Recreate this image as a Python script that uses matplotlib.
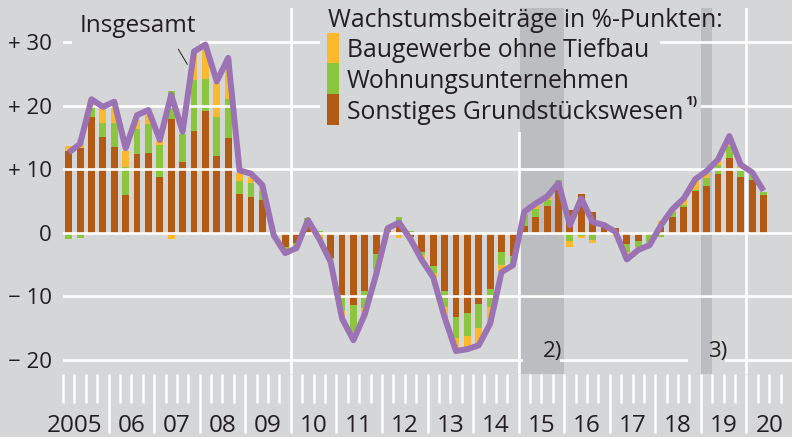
import matplotlib
matplotlib.use('Agg')
import matplotlib.pyplot as plt
from matplotlib.patches import Rectangle
import numpy as np

plt.rcParams['font.family'] = ['Open Sans', 'DejaVu Sans']

# Quartale 2005 Q1 .. 2020 Q2 (Wachstumsbeitraege in %-Punkten)
quarters = np.arange(2005, 2020.5, 0.25) + 0.125

sonstiges = [12.9, 13.4, 18.2, 15.0,
             13.5, 5.9, 12.4, 12.5,
             8.8, 17.9, 11.1, 16.0,
             19.2, 12.1, 14.9, 6.05,
             5.6, 5.1, -0.2, -2.2,
             -1.6, 1.0, -0.4, -3.9,
             -10.1, -11.4, -9.2, -3.4,
             0.3, 1.3, -0.6, -3.0,
             -5.3, -9.2, -13.3, -12.6,
             -11.2, -8.9, -3.0, -3.7,
             1.1, 2.5, 4.2, 7.8,
             3.6, 6.1, 3.3, 1.6,
             0.7, -1.8, -1.3, -0.3,
             0.95, 2.5, 4.1, 6.5,
             7.3, 9.3, 11.8, 8.8,
             8.3, 6.0]
wohnung = [-1.05, -0.9, 1.5, 2.2,
           3.8, 4.5, 3.9, 4.6,
           5.0, 4.4, 4.5, 8.1,
           5.0, 6.1, 6.1, 2.05,
           2.2, 1.4, -0.1, -0.6,
           -0.5, 1.3, 0.2, -0.3,
           -2.2, -4.2, -2.7, -2.3,
           0.3, 1.1, 0.3, -0.5,
           -1.0, -2.5, -3.2, -3.7,
           -3.8, -2.8, -2.0, -1.05,
           1.8, 1.3, 1.0, 0.5,
           -1.3, -0.5, -1.2, -0.4,
           -0.3, -1.2, -0.9, -1.4,
           -0.6, 0.7, 0.3, 0.3,
           1.3, 1.3, 1.8, 1.45,
           0.8, 0.45]
bau = [0.7, 1.4, 1.3, 2.4,
       3.3, 2.5, 1.5, 1.4,
       0.7, -1.05, -0.3, 4.2,
       5.1, 5.3, 6.3, 1.3,
       1.0, 1.0, -0.1, -0.4,
       -0.3, -0.3, -0.6, -0.4,
       -1.0, -0.4, -0.8, -0.8,
       0.1, -0.8, -0.7, -0.8,
       -0.7, -1.6, -2.1, -2.0,
       -2.6, -2.5, -1.2, -0.3,
       0.4, 0.8, 0.4, -0.3,
       -0.9, -0.3, -0.4, 0.0,
       -0.2, -1.1, -0.4, -0.2,
       0.95, 0.6, 1.0, 1.6,
       1.1, 0.9, 1.6, 0.4,
       0.4, -0.3]
insgesamt = [12.6, 14.0, 21.0, 19.8,
             20.6, 13.3, 18.5, 19.3,
             14.6, 21.7, 15.9, 28.5,
             29.6, 23.8, 27.5, 9.8,
             9.3, 7.5, -0.4, -3.2,
             -2.4, 2.0, -1.0, -4.6,
             -13.5, -16.9, -12.8, -6.5,
             0.7, 1.6, -1.0, -4.3,
             -7.0, -13.3, -18.6, -18.3,
             -17.7, -14.3, -6.2, -5.1,
             3.3, 4.6, 5.7, 7.8,
             1.2, 5.4, 1.7, 1.2,
             0.15, -4.2, -2.7, -1.95,
             1.2, 3.7, 5.4, 8.4,
             9.7, 11.5, 15.2, 10.7,
             9.5, 6.6]

series_names = ['Baugewerbe ohne Tiefbau', 'Wohnungsunternehmen', 'Sonstiges Grundstückswesen']
year_labels = ['2005'] + ['%02d' % (y % 100) for y in range(2006, 2021)]
yticks = [-20, -10, 0, 10, 20, 30]
ytick_labels = ['\u2212 20', '\u2212 10', '0', '+ 10', '+ 20', '+ 30']

BG = '#d5d6d8'
SHADE = '#bcbdc0'
TXT = '#231f20'
C_BAU = '#fbb92b'
C_WOHN = '#8cc63f'
C_SONST = '#b35a14'
C_LINE = '#9b72b3'

fig = plt.figure(figsize=(7.92, 4.37), dpi=100)
fig.patch.set_facecolor(BG)
ax = fig.add_axes([63 / 792, (437 - 374.3) / 437, 729 / 792, 366 / 437])
ax.set_facecolor(BG)
ax.set_xlim(2005, 2021)
ax.set_ylim(-22.26, 35.3)
for s in ax.spines.values():
    s.set_visible(False)

# Schattierungen 2) und 3)
ax.axvspan(2015.04, 2016.0, color=SHADE, lw=0, zorder=0.5)
ax.axvspan(2019.0, 2019.25, color=SHADE, lw=0, zorder=0.5)

# gestapelte Balken
width = 0.15
pos = np.zeros(len(quarters))
neg = np.zeros(len(quarters))
for vals, col in [(sonstiges, C_SONST), (wohnung, C_WOHN), (bau, C_BAU)]:
    v = np.array(vals)
    base = np.where(v >= 0, pos, neg)
    ax.bar(quarters, v, width, bottom=base, color=col, lw=0, zorder=1.5)
    pos = pos + np.clip(v, 0, None)
    neg = neg + np.clip(v, None, 0)

# Gitter
for y in yticks:
    ax.axhline(y, color='white', lw=1.9, zorder=2)
for x in [2010, 2015, 2020]:
    ax.axvline(x, color='white', lw=1.9, zorder=2)

# Abdeckungen hinter Texten
ax.add_patch(Rectangle((2010.64, 25.6), 2018.1 - 2010.64, 10, color=BG, lw=0, zorder=2.2))
ax.add_patch(Rectangle((2010.64, 15.8), 2019.0 - 2010.64, 9.9, color=BG, lw=0, zorder=2.2))
ax.add_patch(Rectangle((2015.04, 15.8), 0.96, 20, color=SHADE, lw=0, zorder=2.5))
ax.add_patch(Rectangle((2005.2, 28.7), 2008.0 - 2005.2, 2.6, color=BG, lw=0, zorder=2.2))
ax.add_patch(Rectangle((2015.1, -21.0), 0.8, 3.2, color=SHADE, lw=0, zorder=2.5))
ax.add_patch(Rectangle((2018.72, -21.0), 0.8, 3.2, color=BG, lw=0, zorder=2.2))
ax.add_patch(Rectangle((2019.0, -21.0), 0.25, 3.2, color=SHADE, lw=0, zorder=2.5))

# Insgesamt
ax.plot(quarters, insgesamt, color=C_LINE, lw=4.3, solid_joinstyle='round',
        solid_capstyle='butt', zorder=4)

ax.text(2005.36, 31.6, 'Insgesamt', fontsize=17.5, color=TXT, zorder=5)
ax.annotate('', xy=(2007.76, 26.1), xytext=(2007.50, 29.25),
            arrowprops=dict(arrowstyle='-', color=TXT, lw=0.7), zorder=5)

# Legende
ax.text(2010.816, 32.42, 'Wachstumsbeiträge in %-Punkten:', fontsize=17.8, color=TXT, zorder=5)
rows = [(C_BAU, 31.4, 26.68, 27.57), (C_WOHN, 26.68, 21.8, 22.8), (C_SONST, 21.8, 16.93, 17.95)]
for name, (col, top, bot, base) in zip(series_names, rows):
    ax.add_patch(Rectangle((2010.794, bot), 0.264, top - bot, color=col, lw=0, zorder=5))
    ax.text(2011.233, base, name, fontsize=17.8, color=TXT, zorder=5)
ax.text(2018.66, 21.65, '1)', fontsize=9.5, fontweight='bold', color=TXT, va='top', zorder=5)

ax.text(2015.75, -18.7, '2)', fontsize=16, color=TXT, ha='center', va='center', zorder=5)
ax.text(2019.37, -18.7, '3)', fontsize=16, color=TXT, ha='center', va='center', zorder=5)

# Achsen
ax.set_yticks(yticks)
ax.set_yticklabels(ytick_labels, fontsize=16, color=TXT)
ax.tick_params(axis='y', length=0, pad=8)

ax.set_xticks(np.arange(2006, 2021))
ax.set_xticks(np.arange(2005, 2021, 0.25), minor=True)
ax.tick_params(axis='x', which='major', length=42.5, width=1.8, color='white', labelbottom=False)
ax.tick_params(axis='x', which='minor', length=21, width=1.8, color='white', labelbottom=False)

xt = ax.get_xaxis_transform()
for i, lab in enumerate(year_labels):
    xpos = 2005.26 if i == 0 else 2005 + i + 0.5
    ax.text(xpos, -0.157, lab, transform=xt, fontsize=17.5, color=TXT,
            ha='center', va='baseline', clip_on=False)

plt.savefig('out.png', dpi=100, facecolor=BG)
